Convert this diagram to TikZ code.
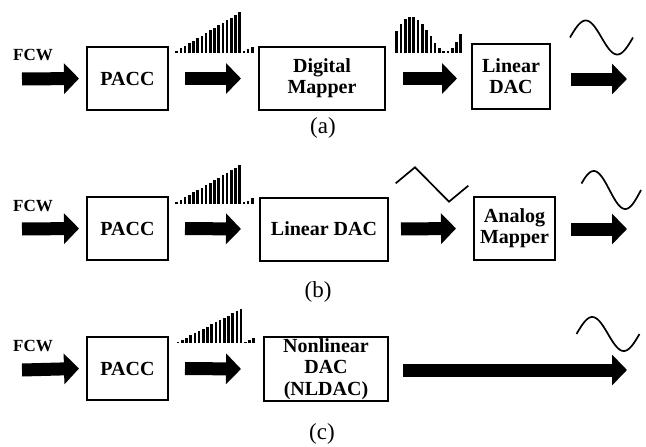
\documentclass[tikz,border=0pt]{standalone}
\usepackage{fontspec}
\setmainfont{Liberation Serif}
\usetikzlibrary{arrows.meta}

\tikzset{
  blockbox/.style={draw, line width=2pt, minimum height=63pt, inner sep=0pt,
    align=center, font=\fontsize{20}{21}\selectfont\bfseries},
  fat/.style={line width=13pt, -{Triangle[length=15pt,width=30pt]}},
  wave/.style={line width=1.7pt, line join=miter},
  inlabel/.style={font=\fontsize{17}{18}\selectfont\bfseries},
  caption/.style={font=\fontsize{23}{26}\selectfont},
}

% ramp of phase-accumulator samples: #1 = left x, #2 = base y, #3 = vertical scale
\newcommand{\rampbars}[3]{%
  \foreach \h [count=\i from 0] in {1.7,4.3,6.8,9.4,12,14.6,17.1,19.7,22.3,24.8,27.4,30,32.6,35.1,37.7,40.3,1.7,3.5,6}
    \fill (#1+\i*4.2-1.3,#2) rectangle ++(2.6,-#3*\h);%
}
% sampled sine shape after the digital mapper
\newcommand{\sinebars}[2]{%
  \foreach \h [count=\i from 0] in {21.7,28.7,33.3,35.3,35.3,32.7,28.7,22.7,16.7,10,5,2,2,5,11,18.3}
    \fill (#1+\i*4.27-1.3,#2) rectangle ++(2.6,-\h);%
}

\begin{document}
\begin{tikzpicture}[x=1pt,y=-1pt]
\useasboundingbox (0,0) rectangle (646,447);

% ---------------- (a) ----------------
\node[blockbox, minimum width=81pt] (paccA) at (127.5,78.5) {PACC};
\node[blockbox, minimum width=126pt] (dmA) at (322,78.5) {Digital\\Mapper};
\node[blockbox, minimum width=78pt, minimum height=65pt] (ldacA) at (511,76) {Linear\\DAC};
\node[inlabel] (fcwA) at (33,55.5) {FCW};
\coordinate (inA) at (22,79);
\coordinate (outA) at (627,79);
\draw[fat] (inA) -- ([xshift=-7pt]paccA.west);
\draw[fat] ([xshift=16pt]paccA.east) -- ([xshift=-17pt]dmA.west);
\draw[fat] ([xshift=17pt]dmA.east) -- ([xshift=-14pt]ldacA.west |- dmA.west);
\draw[fat] ([xshift=20pt]ldacA.east |- outA) -- (outA);
\rampbars{176.7}{52.7}{1}
\sinebars{396.7}{52.7}
\draw[wave] plot[domain=0:360, samples=60, smooth] ({570+\x/360*63},{37.5-17*sin(\x)});
\node[caption] (capA) at (323,128) {(a)};

% ---------------- (b) ----------------
\node[blockbox, minimum width=81pt] (paccB) at (127.5,228.5) {PACC};
\node[blockbox, minimum width=128pt] (ldacB) at (324,229) {Linear DAC};
\node[blockbox, minimum width=81pt] (amB) at (514.5,228.5) {Analog\\Mapper};
\node[inlabel] (fcwB) at (33,205.5) {FCW};
\coordinate (inB) at (22,229);
\coordinate (outB) at (627,229);
\draw[fat] (inB) -- ([xshift=-7pt]paccB.west);
\draw[fat] ([xshift=16pt]paccB.east) -- ([xshift=-18pt]ldacB.west);
\draw[fat] ([xshift=12pt]ldacB.east) -- ([xshift=-17pt]amB.west);
\draw[fat] ([xshift=15pt]amB.east |- outB) -- (outB);
\rampbars{176.7}{204}{0.96}
\draw[wave] (395.7,183.3) -- (415,167.3) -- (449,201.7) -- (468.3,185.7);
\draw[wave] plot[domain=20:360, samples=60, smooth] ({578+\x/360*63},{190-19*sin(\x)});
\node[caption] (capB) at (318,292) {(b)};

% ---------------- (c) ----------------
\node[blockbox, minimum width=81pt] (paccC) at (127.5,368.5) {PACC};
\node[blockbox, minimum width=124pt, minimum height=64pt,
      font=\fontsize{20}{21.5}\selectfont\bfseries] (nldac) at (326,369) {Nonlinear\\DAC\\(NLDAC)};
\node[inlabel] (fcwC) at (33,345.5) {FCW};
\coordinate (inC) at (22,370);
\coordinate (outC) at (627,370);
\draw[fat] (inC) -- ([xshift=-7pt]paccC.west);
\draw[fat] ([xshift=16pt]paccC.east) -- ([xshift=-22pt]nldac.west);
\draw[fat] ([xshift=14pt]nldac.east |- outC) -- (outC);
\rampbars{178}{343.3}{0.85}
\draw[wave] plot[domain=0:360, samples=60, smooth] ({576.5+\x/360*63},{334-17*sin(\x)});
\node[caption] (capC) at (322,434) {(c)};
\end{tikzpicture}
\end{document}
